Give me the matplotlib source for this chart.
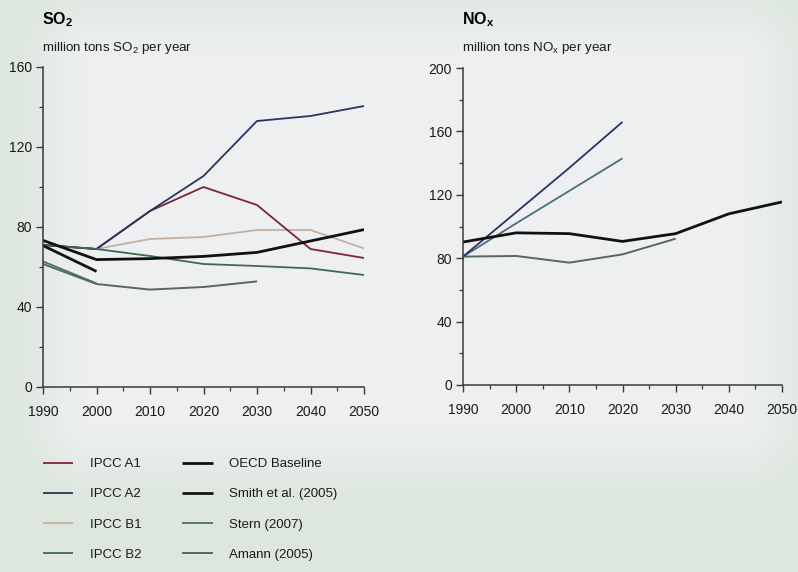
import numpy as np
import matplotlib
matplotlib.use("Agg")
import matplotlib.pyplot as plt
from matplotlib.ticker import MultipleLocator

plt.rcParams["font.family"] = ["Liberation Sans", "DejaVu Sans"]
plt.rcParams["mathtext.fontset"] = "custom"
plt.rcParams["mathtext.rm"] = "Liberation Sans"
plt.rcParams["mathtext.bf"] = "Liberation Sans:bold"

# ---- SO2 emissions (million tons per year) ----
so2_years_ipcc = [1990, 2000, 2010, 2020, 2030, 2040, 2050]
so2_ipcc_a1 = [71, 69, 88, 100, 91, 69, 64.5]
so2_ipcc_a2 = [71, 69, 88, 105.5, 133, 135.5, 140.5]
so2_ipcc_b1 = [71, 69, 74, 75, 78.5, 78.5, 69.3]
so2_ipcc_b2 = [71, 69, 65.5, 61.5, 60.5, 59.3, 56]
so2_years_oecd = [1990, 2000, 2010, 2020, 2030, 2040, 2050]
so2_oecd = [73.3, 63.7, 64.2, 65.3, 67.3, 73, 78.7]
so2_years_smith = [1990, 2000]
so2_smith = [70.7, 57.8]
so2_years_stern = [1990, 2000]
so2_stern = [62.8, 51.8]
so2_years_amann = [1990, 2000, 2010, 2020, 2030]
so2_amann = [61.5, 51.5, 48.7, 50, 52.8]

# ---- NOx emissions (million tons per year) ----
nox_years_ipcc = [1990, 2000, 2010, 2020]
nox_ipcc_a2 = [81, 109, 137, 166]
nox_years_oecd = [1990, 2000, 2010, 2020, 2030, 2040, 2050]
nox_oecd = [90.2, 96, 95.5, 90.6, 95.5, 108, 115.5]
nox_years_stern = [1990, 2000, 2010, 2020]
nox_stern = [81, 102, 122.5, 143]
nox_years_amann = [1990, 2000, 2010, 2020, 2030]
nox_amann = [81, 81.4, 77.2, 82.4, 92.3]

year_ticks = [1990, 2000, 2010, 2020, 2030, 2040, 2050]

colors = {
    "IPCC A1": "#7a2538",
    "IPCC A2": "#2b3362",
    "IPCC B1": "#c4b0a0",
    "IPCC B2": "#3e6a4f",
    "OECD Baseline": "#111111",
    "Smith et al. (2005)": "#141414",
    "Stern (2007)": "#47707a",
    "Amann (2005)": "#56695b",
}
widths = {
    "IPCC A1": 1.3, "IPCC A2": 1.3, "IPCC B1": 1.3, "IPCC B2": 1.3,
    "OECD Baseline": 2.0, "Smith et al. (2005)": 2.0,
    "Stern (2007)": 1.3, "Amann (2005)": 1.4,
}

fig = plt.figure(figsize=(7.98, 5.72), dpi=100)

# soft light backdrop
bg = fig.add_axes([0, 0, 1, 1], zorder=-10)
H, W = 572, 798
yy, xx = np.mgrid[0:H, 0:W]
dx = np.maximum(np.maximum(90 - xx, xx - 740), 0)
dy = np.maximum(np.maximum(60 - yy, yy - 420), 0)
d = np.sqrt(dx ** 2 + dy ** 2)
t = np.clip(d / 90.0, 0, 1)
t = t * t * (3 - 2 * t)
inner = np.array([237, 239, 241]) / 255.0
outer = np.array([221, 231, 222]) / 255.0
img = inner[None, None, :] * (1 - t[..., None]) + outer[None, None, :] * t[..., None]
bg.imshow(img, aspect="auto", extent=[0, 1, 0, 1], interpolation="bilinear")
bg.axis("off")

ax1 = fig.add_axes([43 / 798, 1 - 387 / 572, (364 - 43) / 798, (387 - 67) / 572])
ax2 = fig.add_axes([463 / 798, 1 - 385 / 572, (782 - 463) / 798, (385 - 68) / 572])


def plot_series(ax, x, y, name):
    return ax.plot(x, y, color=colors[name], lw=widths[name], label=name,
                   solid_capstyle="butt", solid_joinstyle="round")[0]


handles = {}
handles["IPCC B1"] = plot_series(ax1, so2_years_ipcc, so2_ipcc_b1, "IPCC B1")
handles["IPCC A1"] = plot_series(ax1, so2_years_ipcc, so2_ipcc_a1, "IPCC A1")
handles["IPCC A2"] = plot_series(ax1, so2_years_ipcc, so2_ipcc_a2, "IPCC A2")
handles["IPCC B2"] = plot_series(ax1, so2_years_ipcc, so2_ipcc_b2, "IPCC B2")
handles["Stern (2007)"] = plot_series(ax1, so2_years_stern, so2_stern, "Stern (2007)")
handles["Amann (2005)"] = plot_series(ax1, so2_years_amann, so2_amann, "Amann (2005)")
handles["Smith et al. (2005)"] = plot_series(ax1, so2_years_smith, so2_smith, "Smith et al. (2005)")
handles["OECD Baseline"] = plot_series(ax1, so2_years_oecd, so2_oecd, "OECD Baseline")

plot_series(ax2, nox_years_amann, nox_amann, "Amann (2005)")
plot_series(ax2, nox_years_stern, nox_stern, "Stern (2007)")
plot_series(ax2, nox_years_ipcc, nox_ipcc_a2, "IPCC A2")
plot_series(ax2, nox_years_oecd, nox_oecd, "OECD Baseline")

for ax, ymax, ystep in ((ax1, 160, 40), (ax2, 200, 40)):
    ax.set_facecolor("none")
    ax.set_xlim(1990, 2050)
    ax.set_ylim(0, ymax)
    ax.set_xticks(year_ticks)
    ax.xaxis.set_minor_locator(MultipleLocator(5))
    ax.yaxis.set_major_locator(MultipleLocator(ystep))
    ax.yaxis.set_minor_locator(MultipleLocator(ystep / 2))
    for s in ("top", "right"):
        ax.spines[s].set_visible(False)
    for s in ("left", "bottom"):
        ax.spines[s].set_color("#3a3a3a")
        ax.spines[s].set_linewidth(1.1)
    ax.tick_params(axis="both", which="major", length=5, width=1.0,
                   color="#3a3a3a", labelsize=10, labelcolor="#1a1a1a")
    ax.tick_params(axis="both", which="minor", length=3, width=0.9, color="#3a3a3a")
    ax.tick_params(axis="x", which="major", pad=8)
    ax.tick_params(axis="y", which="major", pad=3)
    for lab in ax.get_xticklabels() + ax.get_yticklabels():
        lab.set_clip_on(False)

fig.text(42 / 798, 1 - 20 / 572, r"$\mathbf{SO_2}$", fontsize=11.5, va="center", ha="left")
fig.text(42 / 798, 1 - 48 / 572, r"million tons SO$_2$ per year", fontsize=9.6,
         va="center", ha="left", color="#1a1a1a")
fig.text(462 / 798, 1 - 20 / 572, r"$\mathbf{NO_x}$", fontsize=11.5, va="center", ha="left")
fig.text(462 / 798, 1 - 48 / 572, r"million tons NO$_\mathrm{x}$ per year", fontsize=9.6,
         va="center", ha="left", color="#1a1a1a")

order = ["IPCC A1", "IPCC A2", "IPCC B1", "IPCC B2",
         "OECD Baseline", "Smith et al. (2005)", "Stern (2007)", "Amann (2005)"]
leg = fig.legend([handles[k] for k in order], order, ncol=2, loc="upper left",
                 bbox_to_anchor=(43 / 798, 1 - 458 / 572), frameon=False,
                 fontsize=9.5, handlelength=2.3, handletextpad=1.25,
                 labelspacing=1.36, columnspacing=3.1, borderpad=0, borderaxespad=0)
for txt in leg.get_texts():
    txt.set_color("#1a1a1a")

fig.savefig("out.png", dpi=100)
